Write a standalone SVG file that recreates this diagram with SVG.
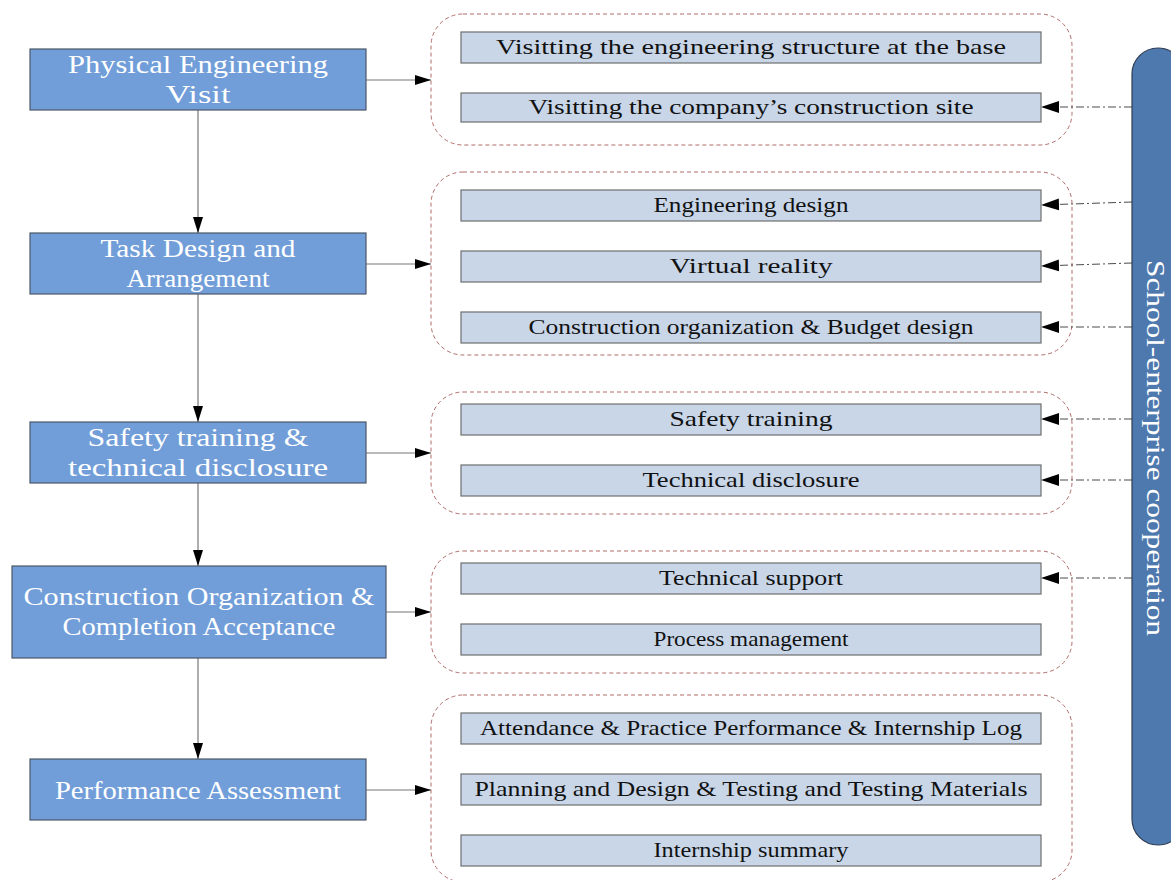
<svg xmlns="http://www.w3.org/2000/svg" width="1171" height="880" viewBox="0 0 1171 880">
  <style>
    .step { fill: #719ed9; stroke: #4b5866; stroke-width: 1.2; }
    .step-text { font-family: "Liberation Serif", "DejaVu Serif", serif; font-size: 26px; fill: #ffffff; text-anchor: middle; }
    .group { fill: none; stroke: #b06c68; stroke-width: 1; stroke-dasharray: 4 3; }
    .item { fill: #c8d6e8; stroke: #6e6e6e; stroke-width: 1.2; }
    .item-text { font-family: "Liberation Serif", "DejaVu Serif", serif; font-size: 22px; fill: #111111; text-anchor: middle; }
    .flow { fill: none; stroke: #777777; stroke-width: 1.2; }
    .support { fill: none; stroke: #4a4a4a; stroke-width: 1; stroke-dasharray: 8 3 2 3; }
    .pill { fill: #4e79ae; stroke: #2e3d52; stroke-width: 1.2; }
    .pill-text { font-family: "Liberation Serif", "DejaVu Serif", serif; font-size: 26px; fill: #ffffff; text-anchor: middle; }
  </style>
  <defs>
    <marker id="arrow" markerUnits="userSpaceOnUse" markerWidth="16" markerHeight="12" refX="16" refY="6" orient="auto">
      <path d="M0,1 L16,6 L0,11 z" fill="#000000"/>
    </marker>
    <marker id="arrow-support" markerUnits="userSpaceOnUse" markerWidth="18" markerHeight="13" refX="18" refY="6.5" orient="auto">
      <path d="M0,0.5 L18,6.5 L0,12.5 z" fill="#000000"/>
    </marker>
  </defs>

  <!-- grouped activity frames -->
  <g id="frames">
    <rect class="group" x="431" y="14" width="641" height="131" rx="32"/>
    <rect class="group" x="431" y="172" width="641" height="183" rx="32"/>
    <rect class="group" x="431" y="392" width="641" height="122" rx="32"/>
    <rect class="group" x="431" y="551" width="641" height="122" rx="32"/>
    <rect class="group" x="431" y="695" width="641" height="187" rx="32"/>
  </g>

  <!-- connectors -->
  <g id="connectors">
    <line class="flow" x1="198" y1="110" x2="198" y2="233" marker-end="url(#arrow)"/>
    <line class="flow" x1="198" y1="294" x2="198" y2="422" marker-end="url(#arrow)"/>
    <line class="flow" x1="198" y1="483" x2="198" y2="566" marker-end="url(#arrow)"/>
    <line class="flow" x1="198" y1="658" x2="198" y2="759" marker-end="url(#arrow)"/>

    <line class="flow" x1="366" y1="80" x2="431" y2="80" marker-end="url(#arrow)"/>
    <line class="flow" x1="366" y1="264" x2="431" y2="264" marker-end="url(#arrow)"/>
    <line class="flow" x1="366" y1="453" x2="431" y2="453" marker-end="url(#arrow)"/>
    <line class="flow" x1="386" y1="612" x2="431" y2="612" marker-end="url(#arrow)"/>
    <line class="flow" x1="366" y1="790" x2="431" y2="790" marker-end="url(#arrow)"/>

    <line class="support" x1="1132" y1="107" x2="1041" y2="107" marker-end="url(#arrow-support)"/>
    <line class="support" x1="1132" y1="202" x2="1041" y2="205" marker-end="url(#arrow-support)"/>
    <line class="support" x1="1132" y1="263" x2="1041" y2="266" marker-end="url(#arrow-support)"/>
    <line class="support" x1="1132" y1="327" x2="1041" y2="327" marker-end="url(#arrow-support)"/>
    <line class="support" x1="1132" y1="419" x2="1041" y2="419" marker-end="url(#arrow-support)"/>
    <line class="support" x1="1132" y1="480" x2="1041" y2="480" marker-end="url(#arrow-support)"/>
    <line class="support" x1="1132" y1="578" x2="1041" y2="578" marker-end="url(#arrow-support)"/>
  </g>

  <!-- main process steps -->
  <g id="step-visit">
    <rect class="step" x="30" y="49" width="336" height="61"/>
    <text class="step-text" x="198" y="73" textLength="260" lengthAdjust="spacingAndGlyphs">Physical Engineering</text>
    <text class="step-text" x="198" y="103" textLength="65" lengthAdjust="spacingAndGlyphs">Visit</text>
  </g>
  <g id="step-task">
    <rect class="step" x="30" y="233" width="336" height="61"/>
    <text class="step-text" x="198" y="257" textLength="195" lengthAdjust="spacingAndGlyphs">Task Design and</text>
    <text class="step-text" x="198" y="287" textLength="143" lengthAdjust="spacingAndGlyphs">Arrangement</text>
  </g>
  <g id="step-safety">
    <rect class="step" x="30" y="422" width="336" height="61"/>
    <text class="step-text" x="198" y="446" textLength="221" lengthAdjust="spacingAndGlyphs">Safety training &amp;</text>
    <text class="step-text" x="198" y="476" textLength="260" lengthAdjust="spacingAndGlyphs">technical disclosure</text>
  </g>
  <g id="step-construction">
    <rect class="step" x="12" y="566" width="374" height="92"/>
    <text class="step-text" x="199" y="605" textLength="351" lengthAdjust="spacingAndGlyphs">Construction Organization &amp;</text>
    <text class="step-text" x="199" y="635" textLength="273" lengthAdjust="spacingAndGlyphs">Completion Acceptance</text>
  </g>
  <g id="step-assessment">
    <rect class="step" x="30" y="759" width="336" height="61"/>
    <text class="step-text" x="198" y="799" textLength="286" lengthAdjust="spacingAndGlyphs">Performance Assessment</text>
  </g>

  <!-- activity items -->
  <g id="item-visit-base">
    <rect class="item" x="461" y="32" width="580" height="31"/>
    <text class="item-text" x="751" y="54" textLength="510" lengthAdjust="spacingAndGlyphs">Visitting the engineering structure at the base</text>
  </g>
  <g id="item-visit-site">
    <rect class="item" x="461" y="93" width="580" height="29"/>
    <text class="item-text" x="751" y="114" textLength="445" lengthAdjust="spacingAndGlyphs">Visitting the company’s construction site</text>
  </g>
  <g id="item-engineering-design">
    <rect class="item" x="461" y="190" width="580" height="31"/>
    <text class="item-text" x="751" y="212" textLength="195" lengthAdjust="spacingAndGlyphs">Engineering design</text>
  </g>
  <g id="item-virtual-reality">
    <rect class="item" x="461" y="251" width="580" height="31"/>
    <text class="item-text" x="751" y="273" textLength="163" lengthAdjust="spacingAndGlyphs">Virtual reality</text>
  </g>
  <g id="item-budget">
    <rect class="item" x="461" y="312" width="580" height="31"/>
    <text class="item-text" x="751" y="334" textLength="445" lengthAdjust="spacingAndGlyphs">Construction organization &amp; Budget design</text>
  </g>
  <g id="item-safety-training">
    <rect class="item" x="461" y="404" width="580" height="31"/>
    <text class="item-text" x="751" y="426" textLength="163" lengthAdjust="spacingAndGlyphs">Safety training</text>
  </g>
  <g id="item-technical-disclosure">
    <rect class="item" x="461" y="465" width="580" height="31"/>
    <text class="item-text" x="751" y="487" textLength="217" lengthAdjust="spacingAndGlyphs">Technical disclosure</text>
  </g>
  <g id="item-technical-support">
    <rect class="item" x="461" y="563" width="580" height="31"/>
    <text class="item-text" x="751" y="585" textLength="184" lengthAdjust="spacingAndGlyphs">Technical support</text>
  </g>
  <g id="item-process-management">
    <rect class="item" x="461" y="624" width="580" height="31"/>
    <text class="item-text" x="751" y="646" textLength="195" lengthAdjust="spacingAndGlyphs">Process management</text>
  </g>
  <g id="item-attendance">
    <rect class="item" x="461" y="713" width="580" height="31"/>
    <text class="item-text" x="751" y="735" textLength="542" lengthAdjust="spacingAndGlyphs">Attendance &amp; Practice Performance &amp; Internship Log</text>
  </g>
  <g id="item-planning">
    <rect class="item" x="461" y="774" width="580" height="31"/>
    <text class="item-text" x="751" y="796" textLength="553" lengthAdjust="spacingAndGlyphs">Planning and Design &amp; Testing and Testing Materials</text>
  </g>
  <g id="item-summary">
    <rect class="item" x="461" y="835" width="580" height="31"/>
    <text class="item-text" x="751" y="857" textLength="195" lengthAdjust="spacingAndGlyphs">Internship summary</text>
  </g>

  <!-- cooperation band -->
  <g id="school-enterprise">
    <rect class="pill" x="1132" y="48" width="52" height="797" rx="26"/>
    <text class="pill-text" transform="translate(1147 448) rotate(90)" x="0" y="0" textLength="376" lengthAdjust="spacingAndGlyphs">School-enterprise cooperation</text>
  </g>
</svg>
